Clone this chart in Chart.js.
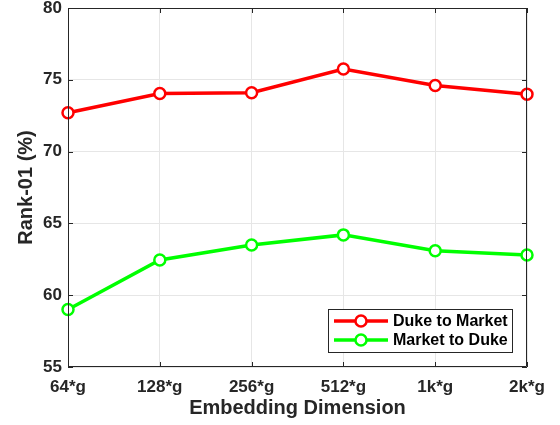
<!DOCTYPE html>
<html>
<head>
<meta charset="utf-8">
<script src="https://cdn.jsdelivr.net/npm/chart.js@4/dist/chart.umd.min.js"></script>
<style>
  html, body { margin: 0; padding: 0; background: #ffffff; }
  #wrap { width: 560px; height: 425px; }
</style>
</head>
<body>
<div id="wrap"><canvas id="c" width="560" height="425"></canvas></div>
<script>
// Embedding sizes on the x axis
const categories = ['64*g', '128*g', '256*g', '512*g', '1k*g', '2k*g'];
// Rank-1 accuracy (%) for each transfer direction
const dukeToMarket = [72.7, 74.05, 74.1, 75.75, 74.6, 74.0];
const marketToDuke = [59.0, 62.45, 63.5, 64.2, 63.1, 62.8];
const yMin = 55, yMax = 80, yStep = 5;

const axisColor = '#262626';
const font = 'Liberation Sans, Arial, Helvetica, sans-serif';

// Box around the plot with inward tick marks on all four sides
const boxPlugin = {
  id: 'boxTicks',
  afterDraw(chart) {
    const { ctx, chartArea: a, scales } = chart;
    const len = 5;
    ctx.save();
    ctx.strokeStyle = axisColor;
    ctx.lineWidth = 1;
    ctx.beginPath();
    ctx.rect(a.left + 0.5, a.top + 0.5, a.right - a.left - 1, a.bottom - a.top - 1);
    scales.x.ticks.forEach((t, i) => {
      const x = Math.round(scales.x.getPixelForTick(i)) + 0.5;
      ctx.moveTo(x, a.bottom); ctx.lineTo(x, a.bottom - len);
      ctx.moveTo(x, a.top); ctx.lineTo(x, a.top + len);
    });
    scales.y.ticks.forEach((t, i) => {
      const y = Math.round(scales.y.getPixelForTick(i)) + 0.5;
      ctx.moveTo(a.left, y); ctx.lineTo(a.left + len, y);
      ctx.moveTo(a.right, y); ctx.lineTo(a.right - len, y);
    });
    ctx.stroke();
    ctx.restore();
  }
};

// Legend box drawn inside the plot, lower right
const legendPlugin = {
  id: 'insideLegend',
  afterDatasetsDraw(chart) {
    const { ctx } = chart;
    const bx = 328, by = 309, bw = 184, bh = 43;
    ctx.save();
    ctx.fillStyle = '#ffffff';
    ctx.fillRect(bx, by, bw, bh);
    ctx.strokeStyle = axisColor;
    ctx.lineWidth = 1;
    ctx.strokeRect(bx + 0.5, by + 0.5, bw, bh);
    chart.data.datasets.forEach((ds, i) => {
      const y = by + 12 + i * 19;
      ctx.strokeStyle = ds.borderColor;
      ctx.lineWidth = ds.borderWidth;
      ctx.beginPath();
      ctx.moveTo(bx + 6, y); ctx.lineTo(bx + 60, y);
      ctx.stroke();
      ctx.beginPath();
      ctx.arc(bx + 33, y, ds.pointRadius, 0, Math.PI * 2);
      ctx.fillStyle = '#ffffff';
      ctx.fill();
      ctx.lineWidth = ds.pointBorderWidth;
      ctx.stroke();
      ctx.fillStyle = '#000000';
      ctx.font = 'bold 16px ' + font;
      ctx.textAlign = 'left';
      ctx.textBaseline = 'middle';
      ctx.fillText(ds.label, bx + 65, y + 1);
    });
    ctx.restore();
  }
};

const lineStyle = (label, color, data) => ({
  label, data,
  borderColor: color,
  backgroundColor: '#ffffff',
  borderWidth: 3.5,
  pointRadius: 5.5,
  pointBorderWidth: 2.5,
  pointBackgroundColor: '#ffffff',
  pointBorderColor: color,
  tension: 0,
  clip: false
});

new Chart(document.getElementById('c'), {
  type: 'line',
  data: {
    labels: categories,
    datasets: [
      lineStyle('Duke to Market', '#ff0000', dukeToMarket),
      lineStyle('Market to Duke', '#00ff00', marketToDuke)
    ]
  },
  options: {
    responsive: false,
    animation: false,
    layout: { padding: { left: 0, right: 33, top: 7, bottom: 0 } },
    plugins: { legend: { display: false }, tooltip: { enabled: false } },
    scales: {
      x: {
        type: 'category',
        offset: false,
        grid: { color: '#e6e6e6', lineWidth: 1, drawTicks: false, offset: false },
        border: { display: false },
        ticks: { color: axisColor, padding: 10, maxRotation: 0, autoSkip: false,
                 font: { family: font, size: 17, weight: 'bold' } },
        title: { display: true, text: 'Embedding Dimension', color: axisColor,
                 padding: { top: 0, bottom: 5 },
                 font: { family: font, size: 20, weight: 'bold' } },
        afterFit(s) {
          s.height = 58;
          s.paddingLeft = 0; s.paddingRight = 0;
        }
      },
      y: {
        min: yMin, max: yMax,
        grid: { color: '#e6e6e6', lineWidth: 1, drawTicks: false },
        border: { display: false },
        ticks: { stepSize: yStep, color: axisColor, padding: 6,
                 font: { family: font, size: 17, weight: 'bold' } },
        title: { display: true, text: 'Rank-01 (%)', color: axisColor,
                 padding: { top: 14, bottom: 0 },
                 font: { family: font, size: 20, weight: 'bold' } },
        afterFit(s) {
          s.width = 68;
          s.paddingTop = 0; s.paddingBottom = 0;
        }
      }
    }
  },
  plugins: [boxPlugin, legendPlugin]
});
</script>
</body>
</html>
